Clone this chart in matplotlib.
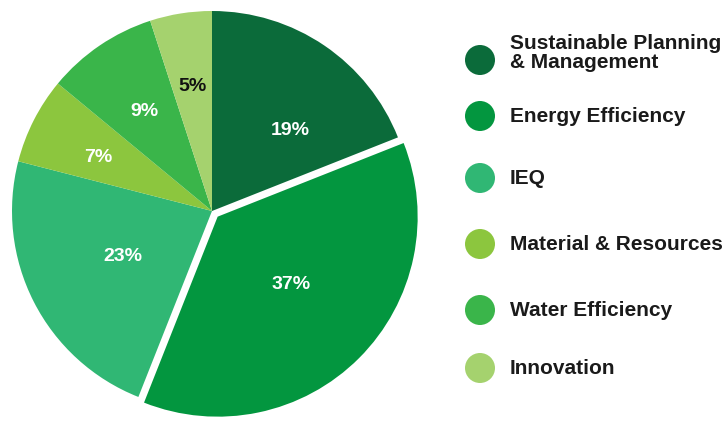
import numpy as np
import matplotlib
matplotlib.use("Agg")
import matplotlib.pyplot as plt
from matplotlib.patches import Circle

categories = ["Sustainable Planning\n& Management", "Energy Efficiency", "IEQ",
              "Material & Resources", "Water Efficiency", "Innovation"]
shares = [19, 37, 23, 7, 9, 5]
pct_labels = ["19%", "37%", "23%", "7%", "9%", "5%"]

colors = ["#0b6b3a", "#03963f", "#30b774", "#8cc63e", "#3ab54a", "#a5d26e"]
explode = [0, 0.04, 0, 0, 0, 0]
label_colors = ["white", "white", "white", "white", "white", "#111111"]
label_radius = [0.56, 0.50, 0.50, 0.63, 0.60, 0.63]
label_turn = [-10, 2.0, 0, 2, 0, 0]

plt.rcParams["font.family"] = ["Liberation Sans", "DejaVu Sans"]

W, H = 723, 421
fig = plt.figure(figsize=(W / 100, H / 100), dpi=100)

# pie axes: centre at (212, 211) px, radius 200 px
cx, cy, R = 212, 211, 200
lim = 1.06
size = 2 * lim * R
ax = fig.add_axes([(cx - size / 2) / W, (H - cy - size / 2) / H, size / W, size / H])
wedges, _ = ax.pie(shares, colors=colors, startangle=90, counterclock=False,
                   explode=explode, radius=1.0, wedgeprops=dict(linewidth=0))
ax.set_xlim(-lim, lim)
ax.set_ylim(-lim, lim)
ax.set_aspect("equal")
ax.axis("off")

for w, txt, col, r, turn in zip(wedges, pct_labels, label_colors, label_radius, label_turn):
    mid = np.deg2rad((w.theta1 + w.theta2) / 2 + turn)
    x0, y0 = w.center
    ax.text(x0 + r * np.cos(mid), y0 + r * np.sin(mid), txt, color=col,
            ha="center", va="center", fontsize=14, fontweight="bold")

# legend drawn in pixel space
lax = fig.add_axes([0, 0, 1, 1])
lax.set_xlim(0, W)
lax.set_ylim(H, 0)
lax.axis("off")
row_y = [60, 116, 178, 244, 310, 368]
for y, name, col in zip(row_y, categories, colors):
    lax.add_patch(Circle((480, y), 15, color=col, lw=0))
    ty = y - 7 if "\n" in name else y
    lax.text(510, ty, name, ha="left", va="center", fontsize=15,
             fontweight="bold", color="#1a1a1a", linespacing=1.0)

fig.savefig("out.png", dpi=100)
